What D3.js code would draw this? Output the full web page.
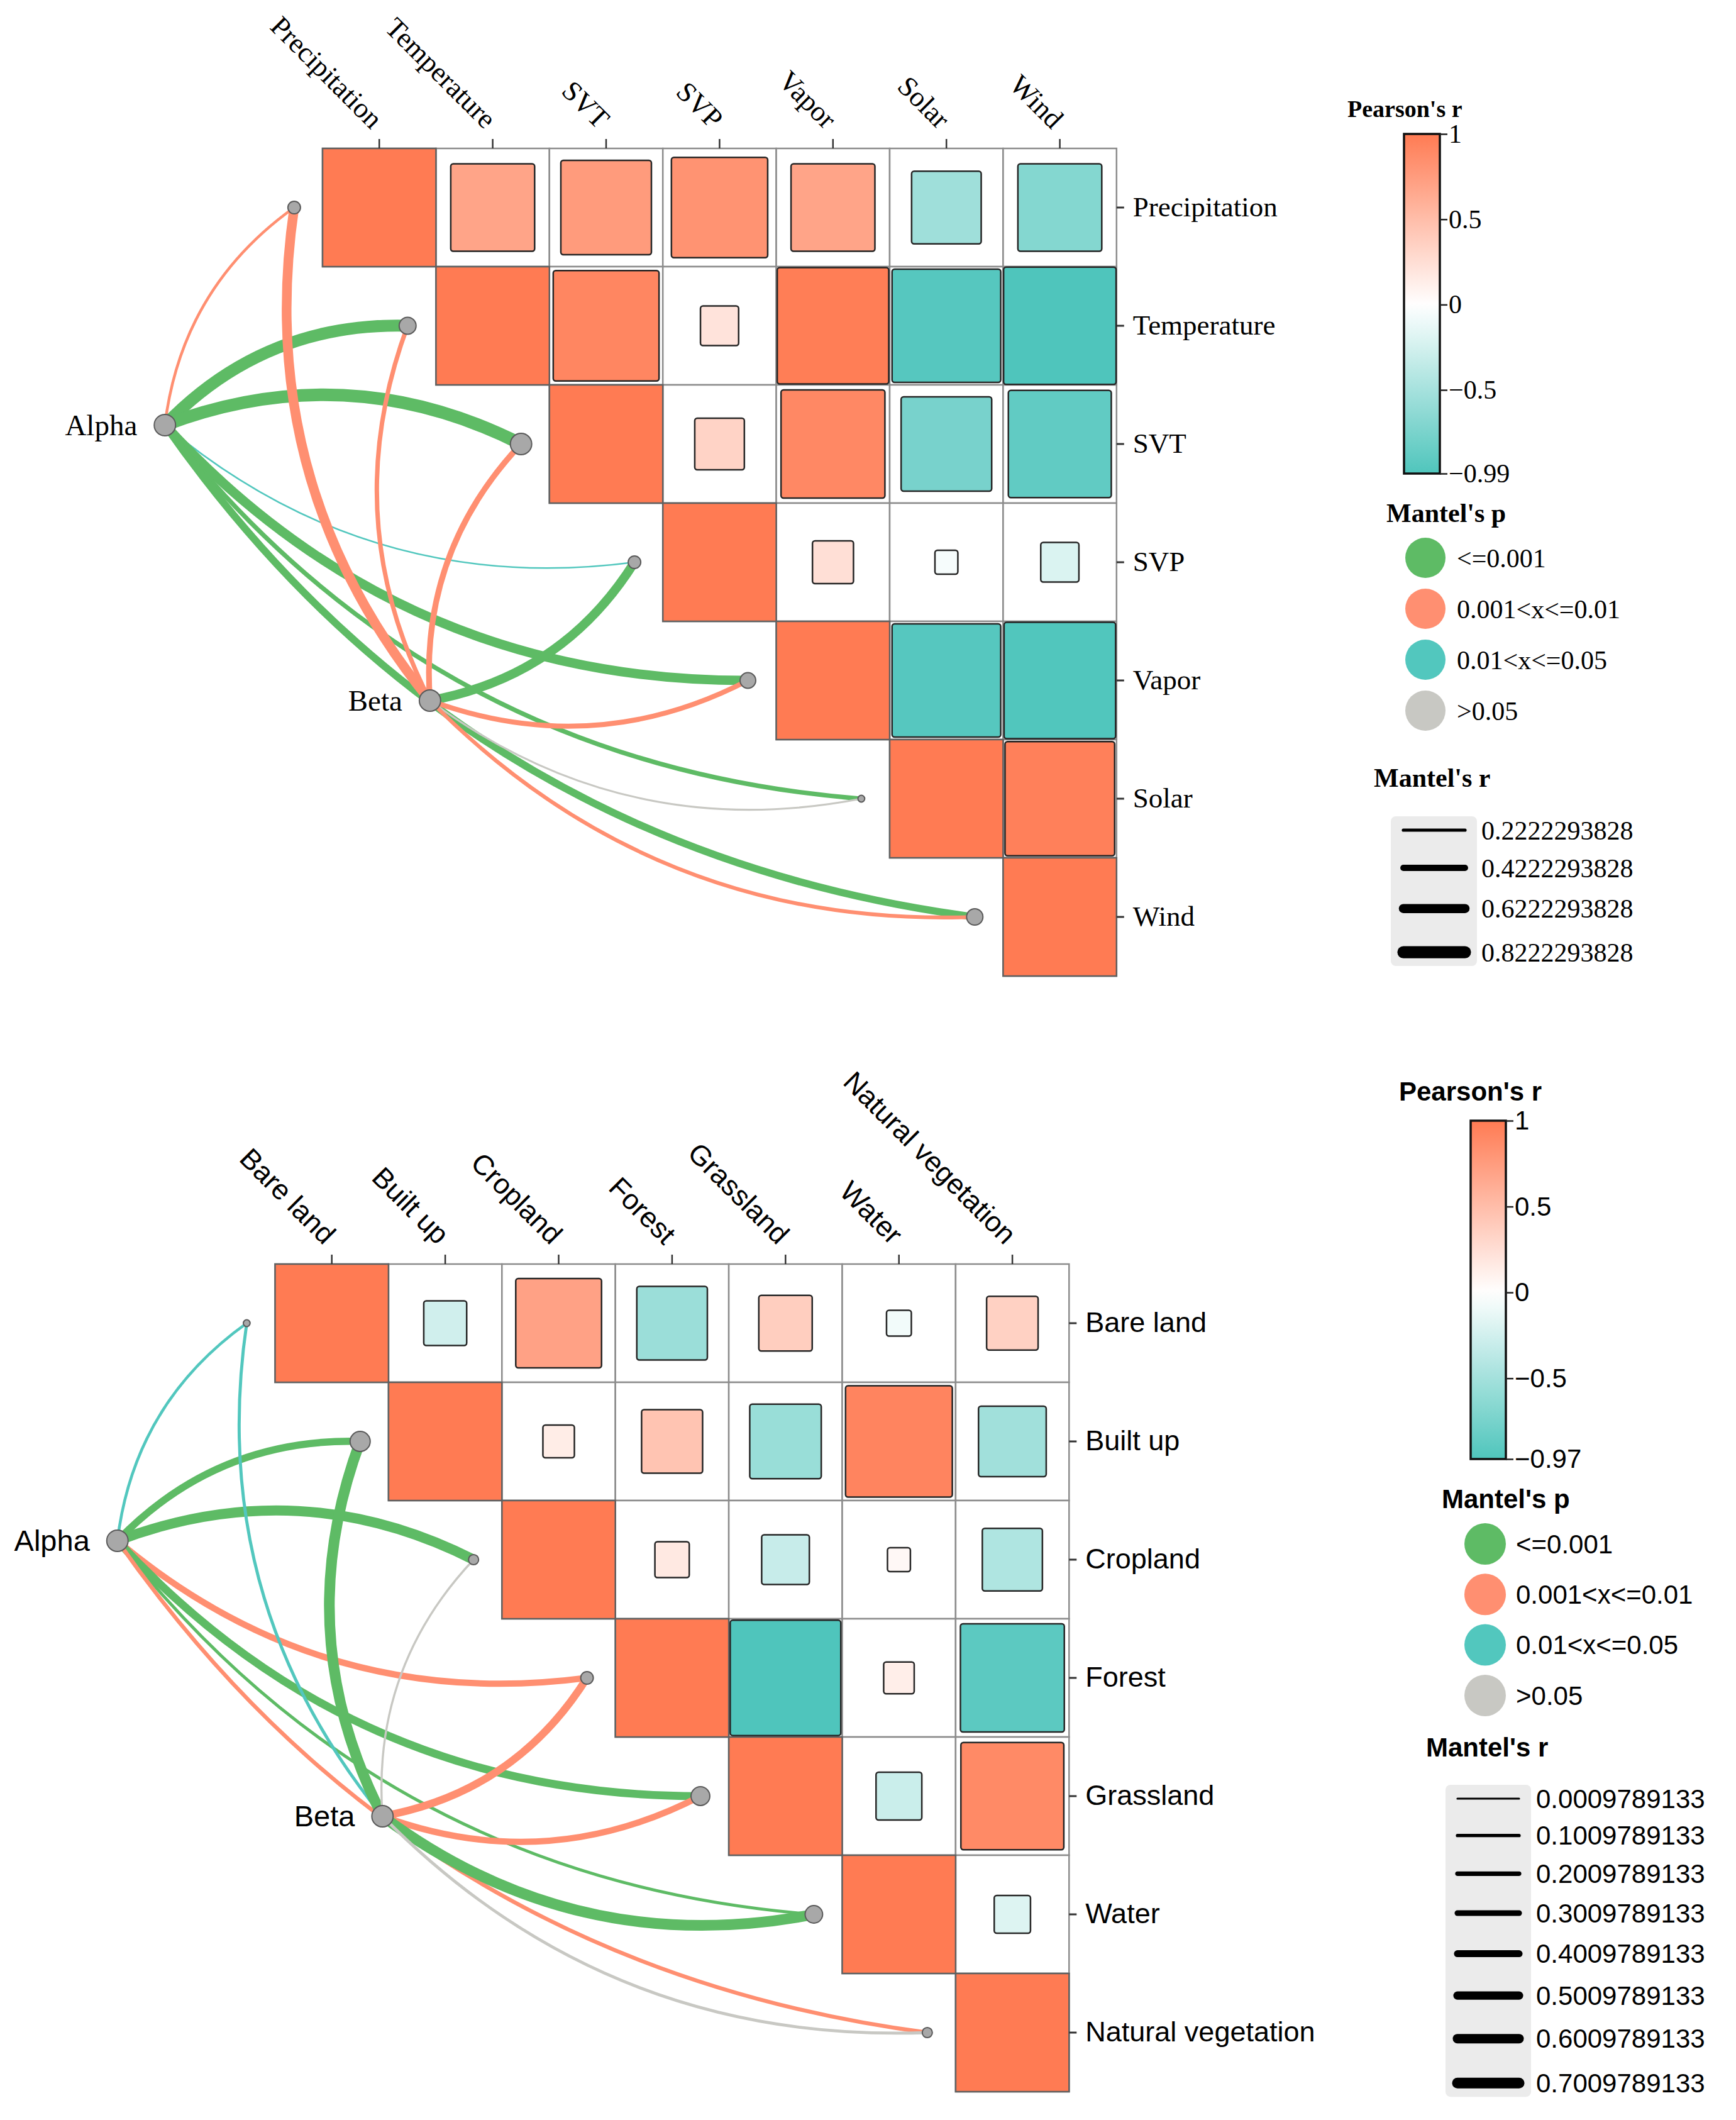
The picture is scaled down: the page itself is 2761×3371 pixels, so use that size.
<!DOCTYPE html>
<html><head><meta charset="utf-8">
<script src="https://cdn.jsdelivr.net/npm/d3@7"></script>
<style>body{margin:0;background:#fff}svg{display:block}</style>
</head><body>
<script>
// ---------------- DATA ----------------
const topVars = ["Precipitation","Temperature","SVT","SVP","Vapor","Solar","Wind"];
const topCorr = [
  [ 1.00,  0.69,  0.76,  0.82,  0.69, -0.54, -0.69],
  [ 0.69,  1.00,  0.92,  0.21,  0.98, -0.95, -0.99],
  [ 0.76,  0.92,  1.00,  0.33,  0.90, -0.76, -0.89],
  [ 0.82,  0.21,  0.33,  1.00,  0.24, -0.05, -0.21],
  [ 0.69,  0.98,  0.90,  0.24,  1.00, -0.95, -0.98],
  [-0.54, -0.95, -0.76, -0.05, -0.95,  1.00,  0.96],
  [-0.69, -0.99, -0.89, -0.21, -0.98,  0.96,  1.00]
];
const envNames = ["Alpha","Beta"];
const topMantelR = [
  [0.19, 0.82, 0.86, 0.11, 0.64, 0.31, 0.50],   // Alpha
  [0.66, 0.30, 0.39, 0.62, 0.34, 0.13, 0.26]    // Beta
];
const topMantelP = [
  [0.005, 0.001, 0.001, 0.03, 0.001, 0.001, 0.001],
  [0.005, 0.005, 0.005, 0.001, 0.005, 0.2, 0.005]
];
const topNodeWeight = [0.31, 0.56, 0.89, 0.31, 0.48, 0.09, 0.52];
const topPearsonTicks = [1, 0.5, 0, -0.5, -0.99];
const topRBreaks = [0.2222293828, 0.4222293828, 0.6222293828, 0.8222293828];

const botVars = ["Bare land","Built up","Cropland","Forest","Grassland","Water","Natural vegetation"];
const botCorr = [
  [ 1.00, -0.26,  0.71, -0.55,  0.37, -0.07,  0.35],
  [-0.26,  1.00,  0.14,  0.45, -0.56,  0.93, -0.52],
  [ 0.71,  0.14,  1.00,  0.17, -0.31,  0.05, -0.44],
  [-0.55,  0.45,  0.17,  1.00, -0.97,  0.13, -0.90],
  [ 0.37, -0.56, -0.31, -0.97,  1.00, -0.29,  0.89],
  [-0.07,  0.93,  0.05,  0.13, -0.29,  1.00, -0.19],
  [ 0.35, -0.52, -0.44, -0.90,  0.89, -0.19,  1.00]
];
const botMantelR = [
  [0.07, 0.42, 0.65, 0.35, 0.48, 0.09, 0.16],   // Alpha
  [0.09, 0.70, 0.01, 0.45, 0.35, 0.70, 0.08]    // Beta
];
const botMantelP = [
  [0.03, 0.001, 0.001, 0.005, 0.001, 0.001, 0.005],
  [0.03, 0.001, 0.3, 0.005, 0.005, 0.001, 0.2]
];
const botNodeWeight = [0.09, 0.79, 0.20, 0.31, 0.69, 0.60, 0.20];
const botPearsonTicks = [1, 0.5, 0, -0.5, -0.97];
const botRBreaks = [0.0009789133, 0.1009789133, 0.2009789133, 0.3009789133,
                    0.4009789133, 0.5009789133, 0.6009789133, 0.7009789133];

const pLabels = ["<=0.001", "0.001<x<=0.01", "0.01<x<=0.05", ">0.05"];
const envNodeWeight = [0.89, 0.89];

// ---------------- STYLE ----------------
const W = 2761, H = 3371;
const ORANGE = "#FF7B53", TEAL = "#4FC5BC";
const pColors = ["#5EBB65", "#FF8F71", "#52C7BE", "#C8C8C3"];
const pCat = p => p <= 0.001 ? 0 : p <= 0.01 ? 1 : p <= 0.05 ? 2 : 3;
const SERIF = "'Liberation Serif','Times New Roman',serif";
const SANS = "'Liberation Sans',Arial,sans-serif";

const svg = d3.select("body").append("svg").attr("width", W).attr("height", H);
svg.append("rect").attr("width", W).attr("height", H).attr("fill", "#fff");
const defs = svg.append("defs");

function curvePath(sx, sy, ex, ey, side) {
  const dx = ex - sx, dy = ey - sy, L = Math.hypot(dx, dy);
  const nx = side * dy / L, ny = side * (-dx) / L;
  const k = 0.22 * L;
  const p = d3.path();
  p.moveTo(sx, sy);
  p.quadraticCurveTo((sx + ex) / 2 + nx * k, (sy + ey) / 2 + ny * k, ex, ey);
  return p.toString();
}

function drawPanel(o) {
  const n = o.vars.length;
  const g = svg.append("g").style("font-family", o.font);
  const xs = d3.scaleLinear().domain([0, n]).range([o.left, o.left + n * o.cw]);
  const ys = d3.scaleLinear().domain([0, n]).range([o.top, o.top + n * o.ch]);
  const bx = d3.scaleBand().domain(o.vars).range([o.left, o.left + n * o.cw]);
  const by = d3.scaleBand().domain(o.vars).range([o.top, o.top + n * o.ch]);
  const color = d3.scaleLinear().domain([o.cmin, 0, 1]).range([TEAL, "#ffffff", ORANGE])
      .interpolate(d3.interpolateRgb);
  const sizeS = d3.scaleLinear().domain([0, 1]).range([0.16, 1]);

  const cells = [];
  for (let i = 0; i < n; i++) for (let j = i; j < n; j++)
    cells.push({ i, j, r: o.corr[i][j] });

  // links
  const links = [];
  o.env.forEach((e, k) => {
    o.vars.forEach((v, i) => {
      links.push({ k, i, r: o.mr[k][i], p: o.mp[k][i] });
    });
  });
  const envPos = [{ u: -1.39, v: 2.34 }, { u: 0.947, v: 4.67 }];
  const endU = i => i - 0.25, endV = i => i + 0.5;
  const half = (n - 1) / 2;
  g.append("g").selectAll("path").data(links).join("path")
    .attr("d", d => curvePath(xs(envPos[d.k].u), ys(envPos[d.k].v),
                              xs(endU(d.i)), ys(endV(d.i)), d.i < half ? 1 : -1))
    .attr("fill", "none")
    .attr("stroke", d => pColors[pCat(d.p)])
    .attr("stroke-width", d => o.wScale(d.r));

  // grid background cells
  g.append("g").selectAll("rect").data(cells).join("rect")
    .attr("x", d => bx(o.vars[d.j])).attr("y", d => by(o.vars[d.i]))
    .attr("width", o.cw).attr("height", o.ch)
    .attr("fill", "#fff").attr("stroke", "#8c8c8c").attr("stroke-width", 2.5);

  // squares
  g.append("g").selectAll("rect").data(cells).join("rect")
    .attr("x", d => bx(o.vars[d.j]) + o.cw * (1 - sizeS(Math.abs(d.r))) / 2)
    .attr("y", d => by(o.vars[d.i]) + o.ch * (1 - sizeS(Math.abs(d.r))) / 2)
    .attr("width", d => o.cw * sizeS(Math.abs(d.r)))
    .attr("height", d => o.ch * sizeS(Math.abs(d.r)))
    .attr("rx", d => d.i === d.j ? 0 : 4)
    .attr("fill", d => color(d.r))
    .attr("stroke", d => d.i === d.j ? "#606060" : "#262626")
    .attr("stroke-width", 2.5);

  // top axis
  const axT = g.append("g").attr("transform", `translate(0,${o.top})`)
    .call(d3.axisTop(bx).tickSize(15).tickSizeOuter(0));
  axT.select(".domain").remove();
  axT.selectAll(".tick line").attr("stroke", "#333").attr("stroke-width", 2.5);
  axT.selectAll(".tick text")
    .attr("x", null).attr("y", null).attr("dy", null)
    .attr("transform", "translate(-13,-29) rotate(45)")
    .attr("text-anchor", "end")
    .attr("fill", "#000")
    .style("font-family", o.font).style("font-size", "45px");

  // right axis
  const axR = g.append("g").attr("transform", `translate(${o.left + n * o.cw},0)`)
    .call(d3.axisRight(by).tickSize(12).tickPadding(14).tickSizeOuter(0));
  axR.select(".domain").remove();
  axR.selectAll(".tick line").attr("stroke", "#333").attr("stroke-width", 3);
  axR.selectAll(".tick text").attr("fill", "#000")
    .style("font-family", o.font).style("font-size", "45px");

  // endpoint dots
  const rNode = d3.scaleSqrt().domain([0, 1]).range([0, 18]);
  g.append("g").selectAll("circle").data(o.vars).join("circle")
    .attr("cx", (d, i) => xs(endU(i))).attr("cy", (d, i) => ys(endV(i)))
    .attr("r", (d, i) => rNode(o.nodeW[i]))
    .attr("fill", "#A8A8A8").attr("stroke", "#5a5a5a").attr("stroke-width", 2);

  // env nodes
  const eg = g.append("g").selectAll("g").data(o.env).join("g")
    .attr("transform", (d, k) => `translate(${xs(envPos[k].u)},${ys(envPos[k].v)})`);
  eg.append("circle").attr("r", (d, k) => rNode(envNodeWeight[k]))
    .attr("fill", "#A8A8A8").attr("stroke", "#5a5a5a").attr("stroke-width", 2);
  eg.append("text").attr("x", (d, k) => -rNode(envNodeWeight[k]) - 27)
    .attr("dy", "0.35em").attr("text-anchor", "end")
    .style("font-size", "47px").text(d => d);

  return color;
}

function drawLegend(o, color) {
  const g = svg.append("g").style("font-family", o.font);
  const fmt = d => (d < 0 ? "\u2212" : "") + Math.abs(d);
  // Pearson title
  g.append("text").attr("x", o.pt.x).attr("y", o.pt.y)
    .style("font-weight", "bold").style("font-size", o.pt.size + "px").text("Pearson's r");
  // gradient
  const gid = "grad" + o.id;
  const grad = defs.append("linearGradient").attr("id", gid)
    .attr("x1", 0).attr("y1", 0).attr("x2", 0).attr("y2", 1);
  const cb = d3.scaleLinear().domain([1, o.cmin]).range([o.bar.y0, o.bar.y1]);
  d3.range(0, 21).forEach(s => {
    const v = 1 + (o.cmin - 1) * s / 20;
    grad.append("stop").attr("offset", (s / 20)).attr("stop-color", color(v));
  });
  g.append("rect").attr("x", o.bar.x).attr("y", o.bar.y0)
    .attr("width", o.bar.w).attr("height", o.bar.y1 - o.bar.y0)
    .attr("fill", `url(#${gid})`).attr("stroke", "#111").attr("stroke-width", 3.5);
  const ax = g.append("g").attr("transform", `translate(${o.bar.x + o.bar.w},0)`)
    .call(d3.axisRight(cb).tickValues(o.ticks).tickSize(12).tickPadding(2).tickFormat(fmt));
  ax.select(".domain").remove();
  ax.selectAll(".tick line").attr("stroke", "#222").attr("stroke-width", 2.5);
  ax.selectAll(".tick text").attr("fill", "#000").style("font-family", o.font).style("font-size", "42px");

  // Mantel's p
  g.append("text").attr("x", o.mp.x).attr("y", o.mp.y)
    .style("font-weight", "bold").style("font-size", o.mp.size + "px").text("Mantel's p");
  const pg = g.append("g").selectAll("g").data(pLabels).join("g")
    .attr("transform", (d, i) => `translate(0,${o.mp.cy0 + i * o.mp.step})`);
  pg.append("circle").attr("cx", o.mp.cx).attr("r", o.mp.r).attr("fill", (d, i) => pColors[i]);
  pg.append("text").attr("x", o.mp.lx).attr("dy", "0.35em").style("font-size", "42px").text(d => d);

  // Mantel's r
  g.append("text").attr("x", o.mr.x).attr("y", o.mr.y)
    .style("font-weight", "bold").style("font-size", o.mr.size + "px").text("Mantel's r");
  const ysr = [];
  o.breaks.forEach((b, i) => {
    if (i === 0) ysr.push(o.mr.y0);
    else ysr.push(ysr[i - 1] + o.mr.gap + (o.wScale(o.breaks[i - 1]) + o.wScale(b)) / 2);
  });
  g.append("rect").attr("x", o.mr.bx).attr("y", o.mr.by).attr("width", o.mr.bw)
    .attr("height", ysr[ysr.length - 1] - o.mr.y0 + 2 * (o.mr.y0 - o.mr.by))
    .attr("rx", 8).attr("fill", "#EBEBEB");
  const lg = g.append("g").selectAll("g").data(o.breaks).join("g")
    .attr("transform", (d, i) => `translate(0,${ysr[i]})`);
  lg.append("line").attr("x1", o.mr.lx0).attr("x2", o.mr.lx1)
    .attr("stroke", "#000").attr("stroke-linecap", "round")
    .attr("stroke-width", d => o.wScale(d));
  lg.append("text").attr("x", o.mr.tx).attr("dy", "0.35em").style("font-size", "42px")
    .text(d => d.toFixed(10));
}

// ---------------- TOP PANEL ----------------
const topW = d3.scaleLinear().domain([topRBreaks[0], topRBreaks[3]]).range([5.2, 19.2]);
const topColor = drawPanel({
  vars: topVars, corr: topCorr, env: envNames, mr: topMantelR, mp: topMantelP,
  nodeW: topNodeWeight, left: 513, top: 236, cw: 180.4, ch: 188,
  font: SERIF, cmin: -0.99, wScale: topW
});
drawLegend({
  id: "t", font: SERIF, cmin: -0.99, ticks: topPearsonTicks, breaks: topRBreaks, wScale: topW,
  pt: { x: 2143, y: 186, size: 38 },
  bar: { x: 2233, w: 57, y0: 213, y1: 753 },
  mp: { x: 2205, y: 830, size: 42, cx: 2267, cy0: 887, step: 81, r: 32, lx: 2317 },
  mr: { x: 2185, y: 1251, size: 42, bx: 2212, by: 1298, bw: 137, y0: 1320, gap: 52.5,
        lx0: 2232, lx1: 2330, tx: 2356 }
}, topColor);

// ---------------- BOTTOM PANEL ----------------
const botW = d3.scaleLinear().domain([botRBreaks[0], botRBreaks[7]]).range([3.2, 17]);
const botColor = drawPanel({
  vars: botVars, corr: botCorr, env: envNames, mr: botMantelR, mp: botMantelP,
  nodeW: botNodeWeight, left: 437.5, top: 2010, cw: 180.4, ch: 188,
  font: SANS, cmin: -0.97, wScale: botW
});
drawLegend({
  id: "b", font: SANS, cmin: -0.97, ticks: botPearsonTicks, breaks: botRBreaks, wScale: botW,
  pt: { x: 2225, y: 1750, size: 42 },
  bar: { x: 2339, w: 56, y0: 1782, y1: 2320 },
  mp: { x: 2293, y: 2398, size: 42, cx: 2362, cy0: 2455, step: 80.3, r: 33, lx: 2411 },
  mr: { x: 2268, y: 2793, size: 42, bx: 2299, by: 2838, bw: 136, y0: 2860, gap: 54.5,
        lx0: 2318, lx1: 2416, tx: 2443 }
}, botColor);
</script>
</body></html>
